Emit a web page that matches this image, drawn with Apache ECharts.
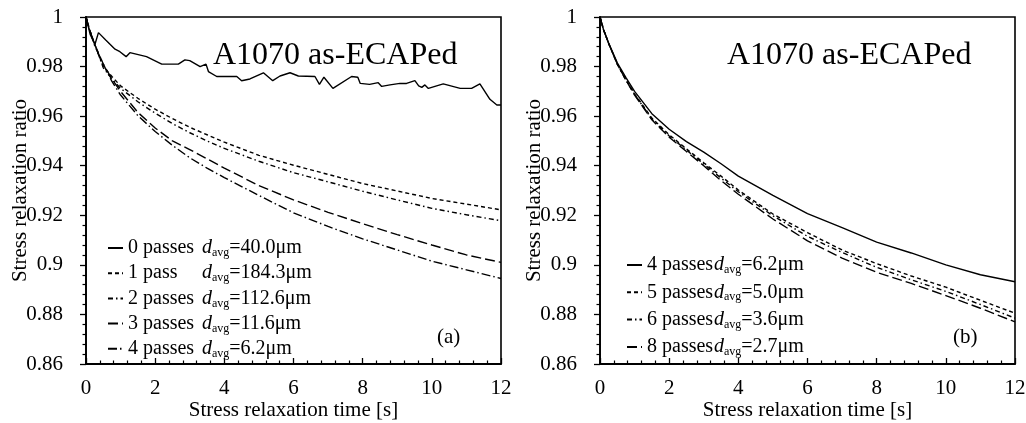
<!DOCTYPE html>
<html>
<head>
<meta charset="utf-8">
<script src="https://cdn.jsdelivr.net/npm/echarts@6/dist/echarts.min.js"></script>
<style>html,body{margin:0;padding:0;background:#fff}#c{width:1026px;height:423px}</style>
</head>
<body>
<div id="c"></div>
<script>
// ---- data ----
var t0 = [0,0.12,0.26,0.36,0.57,0.84,0.98,1.16,1.27,1.75,2.19,2.67,2.86,3.0,3.30,3.47,3.54,3.78,4.36,4.50,4.74,5.13,5.40,5.61,5.90,6.14,6.62,6.75,6.88,7.14,7.68,7.86,7.93,8.20,8.45,8.55,8.79,9.08,9.27,9.51,9.62,9.71,9.80,9.90,10.33,10.82,11.15,11.39,11.68,11.88,12];
var pass0 = [1.0,0.993,0.989,0.9937,0.9907,0.987,0.986,0.984,0.9856,0.984,0.981,0.981,0.9827,0.9824,0.980,0.981,0.978,0.976,0.976,0.9743,0.975,0.9775,0.9743,0.9762,0.9775,0.9762,0.976,0.9728,0.9757,0.9712,0.976,0.9757,0.9732,0.9728,0.9735,0.972,0.9726,0.9732,0.9732,0.9743,0.9722,0.9716,0.9726,0.9712,0.973,0.9712,0.9712,0.973,0.9668,0.9645,0.9645];

var tA = [0,0.1,0.25,0.5,0.75,1,1.5,2,2.5,3,3.5,4,5,6,7,8,9,10,11,12];
var pass1 = [1,0.995,0.989,0.980,0.976,0.9722,0.9672,0.9628,0.959,0.9555,0.9525,0.9495,0.9442,0.9402,0.9365,0.9328,0.9298,0.9268,0.9245,0.9222];
var pass2 = [1,0.995,0.989,0.9795,0.975,0.9712,0.9658,0.9612,0.957,0.9533,0.950,0.947,0.9418,0.9372,0.9335,0.9297,0.9262,0.9228,0.9202,0.9178];
var pass3 = [1,0.995,0.989,0.981,0.975,0.970,0.9615,0.9552,0.950,0.9465,0.9428,0.939,0.932,0.9262,0.9212,0.9166,0.9122,0.908,0.904,0.901];
var pass4 = [1,0.995,0.9885,0.981,0.974,0.9685,0.9602,0.9538,0.9482,0.9432,0.939,0.9352,0.928,0.921,0.9155,0.9105,0.906,0.9015,0.898,0.8945];

var bPass4 = [1,0.995,0.9895,0.9815,0.9755,0.970,0.961,0.9547,0.9497,0.9455,0.9408,0.9358,0.928,0.9207,0.915,0.9092,0.9048,0.900,0.896,0.8932];
var bPass5 = [1,0.995,0.9893,0.981,0.9748,0.969,0.9592,0.9525,0.9468,0.9412,0.9358,0.9302,0.9205,0.913,0.906,0.9005,0.8955,0.891,0.8857,0.8805];
var bPass6 = [1,0.995,0.9893,0.981,0.9745,0.9688,0.9588,0.952,0.9463,0.9407,0.935,0.9295,0.9198,0.9115,0.905,0.899,0.894,0.8893,0.884,0.8785];
var bPass8 = [1,0.995,0.9893,0.981,0.9745,0.9685,0.9585,0.9515,0.9457,0.94,0.934,0.9285,0.9185,0.9097,0.9027,0.897,0.8925,0.8876,0.8825,0.877];

var leftNames = ['0 passes','1 pass','2 passes','3 passes','4 passes'];
var leftD = ['40.0μm','184.3μm','112.6μm','11.6μm','6.2μm'];
var rightNames = ['4 passes','5 passes','6 passes','8 passes'];
var rightD = ['6.2μm','5.0μm','3.6μm','2.7μm'];

var xTicks = {min:0, max:12, interval:2};
var yTicks = {min:0.86, max:1, interval:0.02};
// ------------------------------------------------

var FONT = 'Liberation Serif';
function pairs(t, v){ return t.map(function(x,i){ return [x, v[i]]; }); }

var dashes = {
  solid: 'solid',
  short: [4,3],
  dashdot: [5,3,1.5,3],
  long: [10,4],
  longdot: [9,3,1.5,3]
};

var leftSeries = [
  {data: pairs(t0, pass0), type: dashes.solid},
  {data: pairs(tA, pass1), type: dashes.short},
  {data: pairs(tA, pass2), type: dashes.dashdot},
  {data: pairs(tA, pass3), type: dashes.long},
  {data: pairs(tA, pass4), type: dashes.longdot}
];
var rightSeries = [
  {data: pairs(tA, bPass4), type: dashes.solid},
  {data: pairs(tA, bPass5), type: dashes.short},
  {data: pairs(tA, bPass6), type: dashes.dashdot},
  {data: pairs(tA, bPass8), type: dashes.long}
];

var series = [];
var labelMap = {};
leftSeries.forEach(function(s, i){
  var id = 'L' + i;
  labelMap[id] = {p: leftNames[i], d: leftD[i]};
  series.push({name: id, type:'line', xAxisIndex:0, yAxisIndex:0, data:s.data, symbol:'none', smooth:false,
    lineStyle:{color:'#000', width:1.4, type:s.type}, itemStyle:{color:'#000'}});
});
rightSeries.forEach(function(s, i){
  var id = 'R' + i;
  labelMap[id] = {p: rightNames[i], d: rightD[i]};
  series.push({name: id, type:'line', xAxisIndex:1, yAxisIndex:1, data:s.data, symbol:'none', smooth:false,
    lineStyle:{color:'#000', width:1.4, type:s.type}, itemStyle:{color:'#000'}});
});

function richFor(w){
  return {
    a: {fontFamily:FONT, fontSize:20, color:'#000', width:w, lineHeight:22},
    d: {fontFamily:FONT, fontSize:20, color:'#000', fontStyle:'italic', lineHeight:22},
    s: {fontFamily:FONT, fontSize:12, color:'#000', verticalAlign:'bottom', lineHeight:12},
    b: {fontFamily:FONT, fontSize:20, color:'#000', lineHeight:22}
  };
}
function fmt(name){
  var m = labelMap[name];
  return '{a|' + m.p + '}{d|d}{s|avg}{b|=' + m.d + '}';
}

function xAxis(gi){
  return {type:'value', gridIndex:gi, min:xTicks.min, max:xTicks.max, interval:xTicks.interval,
    name:'Stress relaxation time [s]', nameLocation:'middle', nameGap:36, nameMoveOverlap:false,
    nameTextStyle:{fontFamily:FONT, fontSize:21, color:'#000'},
    axisLine:{show:true, lineStyle:{color:'#000', width:1.8}},
    axisTick:{show:true, inside:true, length:6, lineStyle:{color:'#000', width:1.3}},
    minorTick:{show:true, splitNumber:5, length:3.5, lineStyle:{color:'#000', width:1.2}},
    axisLabel:{fontFamily:FONT, fontSize:21, color:'#000', margin:14},
    splitLine:{show:false}};
}
function yAxis(gi){
  return {type:'value', gridIndex:gi, min:yTicks.min, max:yTicks.max, interval:yTicks.interval,
    name:'Stress relaxation ratio', nameLocation:'middle', nameGap:55, nameMoveOverlap:false,
    nameTextStyle:{fontFamily:FONT, fontSize:21, color:'#000'},
    axisLine:{show:true, lineStyle:{color:'#000', width:1.8}},
    axisTick:{show:true, inside:false, length:6, lineStyle:{color:'#000', width:1.3}},
    minorTick:{show:true, splitNumber:5, length:3.5, lineStyle:{color:'#000', width:1.2}},
    axisLabel:{fontFamily:FONT, fontSize:21, color:'#000', margin:23,
      formatter:function(v){ return String(parseFloat(v.toFixed(2))); }},
    splitLine:{show:false}};
}

var titleStyle = {fontFamily:FONT, fontSize:32, fontWeight:'normal', color:'#000'};
var tagStyle = {fontFamily:FONT, fontSize:21, fontWeight:'normal', color:'#000'};
var hiddenSymbol = {color:'rgba(0,0,0,0)', borderColor:'rgba(0,0,0,0)', borderWidth:0};

var option = {
  animation:false,
  backgroundColor:'#fff',
  title:[
    {text:'A1070 as-ECAPed', left:213, top:40, padding:0, textStyle:titleStyle},
    {text:'A1070 as-ECAPed', left:727, top:40, padding:0, textStyle:titleStyle},
    {text:'(a)', left:437, top:327, padding:0, textStyle:tagStyle},
    {text:'(b)', left:953, top:327, padding:0, textStyle:tagStyle}
  ],
  grid:[
    {left:86, top:17, width:415, height:347, outerBoundsMode:'none', containLabel:false, show:true, borderColor:'#000', borderWidth:1.6, backgroundColor:'transparent'},
    {left:600, top:17, width:415, height:347, outerBoundsMode:'none', containLabel:false, show:true, borderColor:'#000', borderWidth:1.6, backgroundColor:'transparent'}
  ],
  xAxis:[xAxis(0), xAxis(1)],
  yAxis:[yAxis(0), yAxis(1)],
  legend:[
    {data:['L0','L1','L2','L3','L4'], orient:'vertical', left:107, top:238, itemGap:4.2, itemWidth:15, itemHeight:12, padding:0,
      selectedMode:false, formatter:fmt, itemStyle:hiddenSymbol, textStyle:{rich:richFor(74)}},
    {data:['R0','R1','R2','R3'], orient:'vertical', left:626, top:255, itemGap:6.3, itemWidth:15, itemHeight:12, padding:0,
      selectedMode:false, formatter:fmt, itemStyle:hiddenSymbol, textStyle:{rich:richFor(67)}}
  ],
  series:series
};

var chart = echarts.init(document.getElementById('c'), null, {renderer:'canvas'});
chart.setOption(option);
</script>
</body>
</html>
